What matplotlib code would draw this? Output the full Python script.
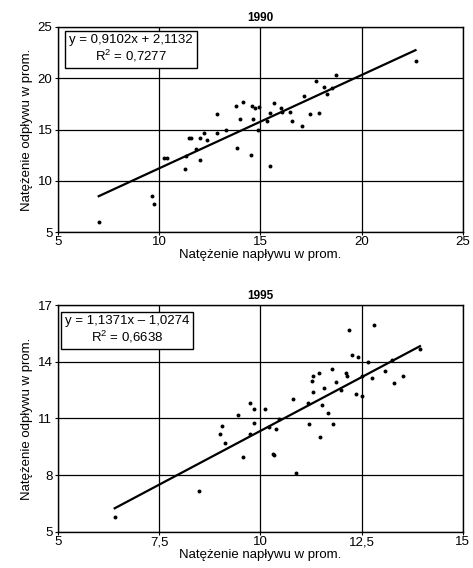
import numpy as np
import matplotlib.pyplot as plt

plt.rcParams['font.family'] = ['Liberation Sans', 'DejaVu Sans']

# 1990 data
x_1990 = [7.01, 9.62, 9.72, 10.25, 10.38, 11.28, 11.32, 11.46, 11.56, 11.81,
          12.01, 12.02, 12.19, 12.38, 12.83, 12.86, 13.32, 13.77, 13.82, 14.01,
          14.14, 14.54, 14.56, 14.62, 14.72, 14.93, 14.88, 15.46, 15.30, 15.49,
          15.67, 16.04, 16.07, 16.45, 16.58, 17.07, 17.14, 17.47, 17.73, 17.89,
          18.16, 18.29, 18.54, 18.72, 22.66]
y_1990 = [6.00, 8.50, 7.69, 12.26, 12.26, 11.13, 12.42, 14.14, 14.20, 13.07,
          12.03, 14.20, 14.69, 13.95, 14.63, 16.51, 14.98, 17.29, 13.20, 16.05,
          17.64, 12.52, 17.32, 16.05, 17.12, 17.19, 14.98, 11.48, 15.83, 16.57,
          17.61, 17.06, 16.67, 16.67, 15.83, 15.34, 18.26, 16.47, 19.72, 16.57,
          19.13, 18.42, 19.00, 20.33, 21.66]

# 1995 data
x_1995 = [6.40, 8.48, 9.00, 9.04, 9.13, 9.45, 9.57, 9.75, 9.75, 9.83,
          9.85, 10.12, 10.21, 10.31, 10.33, 10.38, 10.46, 10.80, 10.89, 11.17,
          11.19, 11.27, 11.31, 11.31, 11.44, 11.48, 11.51, 11.57, 11.68, 11.77,
          11.80, 11.86, 12.00, 12.11, 12.13, 12.18, 12.26, 12.35, 12.40, 12.50,
          12.52, 12.65, 12.75, 12.80, 13.08, 13.26, 13.29, 13.52, 13.94]
y_1995 = [5.77, 7.14, 10.18, 10.60, 9.70, 11.21, 8.95, 11.82, 10.17, 11.49,
          10.76, 11.52, 10.55, 9.12, 9.05, 10.46, 10.97, 12.03, 8.13, 11.83,
          10.72, 12.98, 13.26, 12.39, 13.40, 10.04, 11.73, 12.63, 11.30, 13.64,
          10.69, 12.91, 12.50, 13.43, 13.22, 15.68, 14.34, 12.27, 14.27, 13.26,
          12.17, 13.99, 13.12, 15.94, 13.49, 14.08, 12.88, 13.26, 14.69]

panels = [
    dict(title='1990', x=x_1990, y=y_1990, a=0.9102, b=2.1132,
         eq='y = 0,9102x + 2,1132', r2='0,7277',
         xlim=(5, 25), xticks=[5, 10, 15, 20, 25], xlabels=['5', '10', '15', '20', '25'],
         ylim=(5, 25), yticks=[5, 10, 15, 20, 25], ylabels=['5', '10', '15', '20', '25'],
         rect=[0.1226, 0.5915, 0.856, 0.361], box_xy=(0.18, 0.965)),
    dict(title='1995', x=x_1995, y=y_1995, a=1.1371, b=-1.0274,
         eq='y = 1,1371x \u2013 1,0274', r2='0,6638',
         xlim=(5, 15), xticks=[5, 7.5, 10, 12.5, 15], xlabels=['5', '7,5', '10', '12,5', '15'],
         ylim=(5, 17), yticks=[5, 8, 11, 14, 17], ylabels=['5', '8', '11', '14', '17'],
         rect=[0.1226, 0.0635, 0.856, 0.3995], box_xy=(0.17, 0.955)),
]

fig = plt.figure(figsize=(4.73, 5.68), dpi=100)

for p in panels:
    ax = fig.add_axes(p['rect'])
    x = np.array(p['x'])
    ax.scatter(x, p['y'], s=8, color='black', zorder=3, linewidths=0)
    xl = np.array([x.min(), x.max()])
    ax.plot(xl, p['a'] * xl + p['b'], color='black', lw=1.6, zorder=4)

    ax.set_xlim(*p['xlim'])
    ax.set_ylim(*p['ylim'])
    ax.set_xticks(p['xticks'])
    ax.set_xticklabels(p['xlabels'])
    ax.set_yticks(p['yticks'])
    ax.set_yticklabels(p['ylabels'])
    ax.grid(True, color='black', lw=0.9)
    ax.set_axisbelow(True)
    for s in ax.spines.values():
        s.set_color('black')
        s.set_linewidth(1.0)
    ax.tick_params(labelsize=9.5, length=2, width=0.8, pad=2)
    ax.tick_params(axis='x', pad=1)

    ax.set_title(p['title'], fontsize=8.5, fontweight='bold', pad=4)
    ax.set_xlabel('Natężenie napływu w prom.', fontsize=9.5, labelpad=0.5)
    ax.set_ylabel('Natężenie odpływu w prom.', fontsize=9.5, labelpad=3)

    ax.text(p['box_xy'][0], p['box_xy'][1], p['eq'] + '\n$\\mathregular{R^2}$ = ' + p['r2'],
            transform=ax.transAxes, ha='center', va='top', fontsize=9.5,
            multialignment='center', linespacing=1.15, zorder=5,
            bbox=dict(boxstyle='square,pad=0.3', fc='white', ec='black', lw=1.0))

fig.savefig('out.png', dpi=100)
